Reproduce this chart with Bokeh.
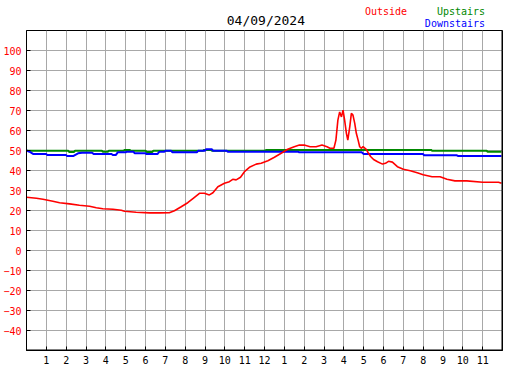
from bokeh.plotting import figure
from bokeh.models import FixedTicker, Range1d, Label, Span
from bokeh.layouts import column
from bokeh.embed import file_html
from bokeh.resources import INLINE

# ---- data ----
chart_date = "04/09/2024"
hour_ticks = list(range(1, 24))
hour_labels = ["1", "2", "3", "4", "5", "6", "7", "8", "9", "10", "11", "12",
               "1", "2", "3", "4", "5", "6", "7", "8", "9", "10", "11"]
temp_ticks = [-40, -30, -20, -10, 0, 10, 20, 30, 40, 50, 60, 70, 80, 90, 100]

outside_h = [0, 0.5, 0.83, 1.08, 1.33, 1.67, 2.17, 2.67, 3.18, 3.52, 3.85, 4.36, 4.78, 4.94,
             5.53, 6.2, 6.7, 7.2, 7.46, 7.8, 8.13, 8.47, 8.72, 8.97, 9.22, 9.4, 9.65, 9.98,
             10.23, 10.4, 10.57, 10.79, 10.99, 11.24, 11.58, 11.83, 12.17, 12.5, 12.84, 13.17,
             13.5, 13.76, 14.0, 14.3, 14.6, 14.9, 15.15, 15.3, 15.5, 15.6, 15.7, 15.79, 15.88,
             15.96, 16.04, 16.13, 16.2, 16.3, 16.38, 16.46, 16.55, 16.63, 16.72, 16.8, 16.88,
             16.97, 17.13, 17.22, 17.35, 17.5, 17.7, 17.95, 18.1, 18.25, 18.45, 18.7, 19.0,
             19.35, 19.7, 20.0, 20.45, 20.85, 21.2, 21.6, 22.2, 23.0, 23.8, 23.95]
outside_t = [26.6, 26.1, 25.6, 25.1, 24.6, 23.9, 23.3, 22.6, 22.1, 21.4, 20.9, 20.6, 20.1, 19.6,
             19.1, 18.8, 18.8, 18.9, 19.9, 21.9, 23.9, 26.6, 28.6, 28.6, 27.8, 28.9, 31.9, 33.6,
             34.4, 35.6, 35.3, 36.6, 39.4, 41.6, 43.2, 43.6, 44.9, 46.6, 48.6, 50.6,
             51.9, 52.7, 52.7, 51.9, 51.9, 52.7, 51.9, 51.1, 51.1, 55.2, 65.2, 69.3, 66.8,
             70.2, 65.2, 58.6, 55.2, 61.9, 68.6, 67.7, 63.6, 58.6, 55.2, 51.9, 51.1,
             51.9, 50.6, 49.0, 47.0, 45.5, 44.4, 43.2, 43.6, 44.6, 44.2, 41.9, 40.6,
             39.9, 38.9, 37.9, 36.9, 36.9, 35.6, 34.8, 34.8, 34.1, 34.1, 33.6]

upstairs_h = [0, 2.1, 2.15, 2.4, 2.45, 3.8, 3.85, 4.1, 4.15, 4.9, 4.95, 5.2, 5.25, 6.0, 6.05,
              6.35, 6.4, 8.9, 8.95, 9.3, 9.35, 12.0, 12.1, 20.4, 20.45, 23.2, 23.25, 23.95]
upstairs_t = [49.9, 49.9, 49.3, 49.3, 49.9, 49.9, 49.4, 49.4, 49.9, 49.9, 50.3, 50.3, 49.9, 49.9,
              49.3, 49.3, 49.9, 49.9, 50.3, 50.3, 49.9, 49.9, 50.3, 50.3, 49.9, 49.9, 49.4, 49.4]

downstairs_h = [0, 0.15, 0.35, 1.0, 1.05, 2.0, 2.05, 2.35, 2.6, 2.8, 3.3, 3.4, 4.3, 4.35, 4.5,
                4.6, 5.0, 5.05, 5.4, 5.45, 6.0, 6.05, 6.6, 6.7, 6.95, 7.0, 7.3, 7.35, 8.6, 8.65,
                9.0, 9.05, 9.35, 9.4, 10.1, 10.15, 13.7, 13.75, 16.9, 17.0, 20.0, 20.05, 21.7,
                21.75, 23.95]
downstairs_t = [50.0, 49.4, 48.2, 48.2, 47.7, 47.7, 47.2, 47.2, 48.6, 48.9, 48.9, 48.2, 48.2, 47.7,
                47.7, 49.1, 49.1, 49.4, 49.4, 48.6, 48.6, 48.2, 48.2, 49.4, 49.4, 49.9, 49.9, 49.1,
                49.1, 49.9, 49.9, 50.6, 50.6, 49.9, 49.9, 49.4, 49.4, 49.1, 49.1, 48.2, 48.2, 47.6,
                47.6, 47.3, 47.3]

series_names = ["Outside", "Upstairs", "Downstairs"]
RED, GREEN, BLUE = "#ff0000", "#008800", "#0000ff"
MONO = "DejaVu Sans Mono"
W = 519

# ---- header strip (date + legend texts) ----
head = figure(width=W, height=30, output_backend="svg", toolbar_location=None,
              x_range=Range1d(0, W), y_range=Range1d(0, 30),
              x_axis_type=None, y_axis_type=None, min_border=0)
head.outline_line_color = None
head.grid.visible = False
head.background_fill_color = "white"
head.border_fill_color = "white"
head.add_layout(Label(x=261, y=10, text=chart_date, text_font=MONO, text_font_size="13px",
                      text_color="black", text_align="center", text_baseline="middle"))
head.add_layout(Label(x=369, y=19, text=series_names[0], text_font=MONO, text_font_size="10px",
                      text_color=RED, text_align="left", text_baseline="middle"))
head.add_layout(Label(x=500, y=19, text=series_names[1], text_font=MONO, text_font_size="10px",
                      text_color=GREEN, text_align="right", text_baseline="middle"))
head.add_layout(Label(x=500, y=7, text=series_names[2], text_font=MONO, text_font_size="10px",
                      text_color=BLUE, text_align="right", text_baseline="middle"))

# ---- main chart ----
p = figure(width=W, height=340, output_backend="svg", toolbar_location=None,
           x_range=Range1d(0, 24), y_range=Range1d(-50, 110),
           min_border_left=25, min_border_right=17, min_border_top=0, min_border_bottom=20)
p.background_fill_color = "white"
p.border_fill_color = "white"
p.outline_line_color = "black"
p.outline_line_width = 1

p.xaxis.ticker = FixedTicker(ticks=hour_ticks)
p.xaxis.major_label_overrides = {t: l for t, l in zip(hour_ticks, hour_labels)}
p.yaxis.ticker = FixedTicker(ticks=temp_ticks)
for ax in (p.xaxis, p.yaxis):
    ax.major_tick_in = 4
    ax.major_tick_out = 0
    ax.minor_tick_line_color = None
    ax.axis_line_color = "black"
    ax.major_tick_line_color = "black"
    ax.major_label_text_font = MONO
    ax.major_label_text_font_size = "10px"
p.yaxis.major_label_standoff = 5
p.xaxis.major_label_standoff = 5
p.yaxis.major_label_text_color = RED
p.xaxis.major_label_text_color = "black"
p.xgrid.grid_line_color = "#a8a8a8"
p.ygrid.grid_line_color = "#a8a8a8"
p.xgrid.grid_line_width = 1
p.ygrid.grid_line_width = 1

p.line(upstairs_h, upstairs_t, line_color=GREEN, line_width=2)
p.line(downstairs_h, downstairs_t, line_color=BLUE, line_width=2)
p.line(outside_h, outside_t, line_color=RED, line_width=1.6)

# heavier right / bottom frame edge
p.add_layout(Span(location=24, dimension="height", line_color="black", line_width=2))
p.add_layout(Span(location=-50, dimension="width", line_color="black", line_width=2))

layout = column(head, p, spacing=0)
open("out.html", "w").write(file_html(layout, INLINE))
